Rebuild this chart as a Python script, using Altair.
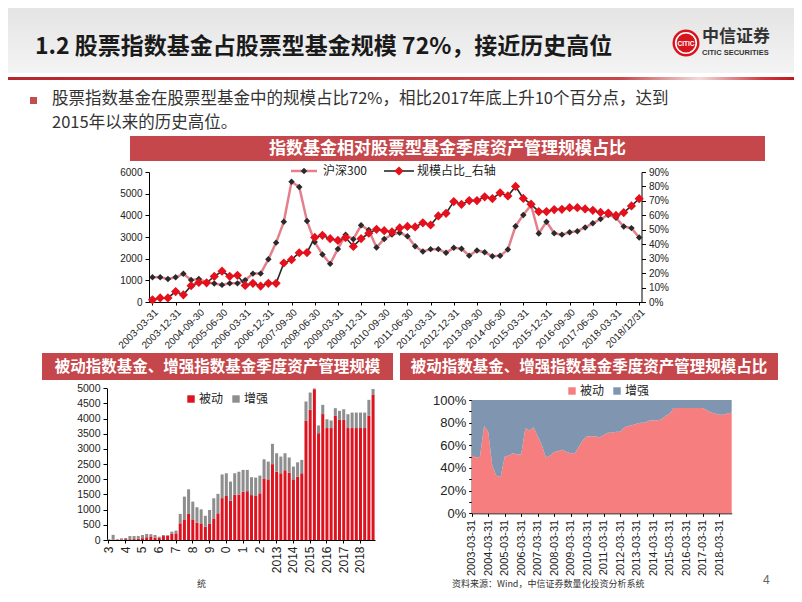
import json
import altair as alt
import pandas as pd

# ---------------- data ----------------
quarter_dates = [f"{y}-{md}" for y in range(2003, 2019)
                 for md in ("03-31", "06-30", "09-30", "12-31")]
quarter_dates[-1] = "2018/12/31"

hs300 = [1140, 1140, 1060, 1140, 1300, 1020, 1060, 910,
         850, 790, 860, 860, 1010, 1310, 1310, 1970,
         2740, 3700, 5550, 5310, 3740, 2770, 2190, 1760,
         2450, 3100, 2900, 3540, 3320, 2520, 2910, 3110,
         3200, 3030, 2570, 2330, 2440, 2440, 2270, 2500,
         2460, 2140, 2380, 2300, 2110, 2130, 2420, 3500,
         4020, 4480, 3160, 3700, 3170, 3110, 3220, 3270,
         3440, 3630, 3830, 4020, 3890, 3480, 3410, 2980]

ratio_pct = [1.5, 2.8, 2.8, 7.2, 5.0, 11.3, 13.5, 13.3,
             17.7, 21.3, 17.8, 18.5, 11.5, 12.9, 11.0, 12.9,
             12.9, 27.0, 29.3, 34.1, 34.2, 44.7, 46.2, 43.8,
             42.6, 44.6, 38.5, 43.8, 47.6, 50.3, 49.4, 48.5,
             51.3, 52.3, 52.0, 54.8, 53.3, 59.6, 61.4, 69.5,
             67.6, 70.2, 70.2, 72.8, 71.6, 75.6, 73.4, 80.0,
             71.7, 67.7, 62.6, 62.6, 64.0, 64.2, 65.3, 65.3,
             64.4, 63.5, 62.0, 61.6, 59.9, 61.9, 66.5, 71.5]

bar_passive = [5, 10, 15, 20, 30, 25, 30, 40,
               60, 90, 100, 80, 70, 130, 140, 200,
               220, 550, 680, 860, 680, 570, 550, 440,
               530, 710, 880, 1380, 1450, 1300, 1490, 1500,
               1590, 1610, 1480, 1450, 1540, 2030, 2000, 2500,
               2250, 2200, 2300, 2220, 2000, 2090, 2200, 3940,
               4290, 4970, 3520, 4150, 3690, 3690, 4090, 3960,
               3960, 3690, 3690, 3690, 3690, 3690, 4090, 4780]
bar_enhanced = [25, 160, 10, 35, 35, 105, 100, 90,
                105, 110, 90, 85, 40, 35, 25, 75,
                90, 310, 750, 810, 585, 510, 460, 360,
                460, 665, 640, 780, 750, 625, 710, 750,
                720, 700, 590, 607, 583, 630, 585, 670,
                610, 550, 560, 500, 420, 470, 440, 625,
                570, 25, 255, 305, 290, 250, 255, 297,
                350, 457, 510, 510, 510, 510, 530, 195]

share_passive = [52, 49, 50, 77, 72, 42, 33, 32,
                 50, 51, 53, 52, 52, 75, 73, 76,
                 68, 60, 49, 51, 54, 55, 56, 54,
                 53, 53, 59, 65, 68, 68, 68, 67,
                 69, 71, 71, 72, 72, 76, 77, 78,
                 79, 80, 80, 82, 82, 82, 83, 86,
                 88, 93, 93, 93, 93, 93, 93, 93,
                 93, 91, 89, 88, 87, 87, 88, 89]

series_names = ["被动", "增强"]
bar_year_labels = ["3", "4", "5", "6", "7", "8", "9", "0", "1", "2",
                   "2013", "2014", "2015", "2016", "2017", "2018"]
area_year_labels = [f"{y}-03-31" for y in range(2003, 2019)]
top_left_ticks = [0, 1000, 2000, 3000, 4000, 5000, 6000]
top_right_ticks = [0, 10, 20, 30, 40, 50, 60, 70, 80, 90]
bar_ticks = [0, 500, 1000, 1500, 2000, 2500, 3000, 3500, 4000, 4500, 5000]

# ---------------- style ----------------
FONT_CN = "Noto Sans CJK SC"
FONT_NUM = "Liberation Sans"
BANNER = "#C5474B"
PINK = "#E3808B"
RED_PT = "#E5101C"
DARK = "#2A2A2A"
BAR_RED = "#DD1420"
BAR_GRAY = "#8E8E8E"
AREA_RED = "#F77E7E"
AREA_BLUE = "#8096B0"
W, H = 786, 585

top_df = pd.DataFrame({"idx": list(range(64)), "date": quarter_dates,
                       "hs300": hs300, "ratio": ratio_pct})

bar_rows = []
for i in range(64):
    bar_rows.append({"q": i, "series": series_names[0], "value": bar_passive[i], "ord": 0})
    bar_rows.append({"q": i, "series": series_names[1], "value": bar_enhanced[i], "ord": 1})
bar_df = pd.DataFrame(bar_rows)

area_rows = []
for i in range(64):
    area_rows.append({"q": i, "series": series_names[0], "share": share_passive[i], "ord": 0})
    area_rows.append({"q": i, "series": series_names[1], "share": 100 - share_passive[i], "ord": 1})
area_df = pd.DataFrame(area_rows)

ONE = alt.Data(values=[{"k": 0}])


def txt(s, x, y, size, color="#222222", font=FONT_CN, weight="normal",
        align="left", baseline="middle"):
    return alt.Chart(ONE).mark_text(
        text=s, fontSize=size, font=font, fontWeight=weight, color=color,
        align=align, baseline=baseline
    ).encode(x=alt.value(x), y=alt.value(y))


def box(x1, x2, y1, y2, fill):
    return alt.Chart(ONE).mark_rect(color=fill).encode(
        x=alt.value(x1), x2=alt.value(x2), y=alt.value(y1), y2=alt.value(y2))


axis_common = dict(grid=False, title=None, domainColor="black", tickColor="black",
                   labelColor="#222222", labelFont=FONT_NUM)

# ---------------- top chart ----------------
x_top_scale = alt.Scale(domain=[-0.45, 63.3], range=[141, 633.5], nice=False, zero=False)
x_top_axis = alt.Axis(orient="bottom", offset=294 - H, values=list(range(0, 64, 3)),
                      labelExpr=json.dumps(quarter_dates) + "[datum.value]",
                      labelAngle=-45, labelFontSize=10, labelFlush=False,
                      labelOverlap=False, tickSize=3, labelPadding=2, **axis_common)
y_left_scale = alt.Scale(domain=[0, 6000], range=[294, 164], nice=False)
y_right_scale = alt.Scale(domain=[0, 90], range=[294, 164], nice=False)

hs_line = alt.Chart(top_df).mark_line(color=PINK, strokeWidth=2.5).encode(
    x=alt.X("idx:Q", scale=x_top_scale, axis=x_top_axis),
    y=alt.Y("hs300:Q", scale=y_left_scale,
            axis=alt.Axis(orient="left", offset=-141, values=top_left_ticks, format="d",
                          labelFontSize=10, tickSize=4, labelPadding=3, **axis_common)))
hs_pts = alt.Chart(top_df).mark_point(shape="diamond", filled=True, color=DARK,
                                      size=42, opacity=1).encode(
    x=alt.X("idx:Q", scale=x_top_scale, axis=None),
    y=alt.Y("hs300:Q", scale=y_left_scale, axis=None))
ratio_line = alt.Chart(top_df).mark_line(color=DARK, strokeWidth=1.6).encode(
    x=alt.X("idx:Q", scale=x_top_scale, axis=None),
    y=alt.Y("ratio:Q", scale=y_right_scale,
            axis=alt.Axis(orient="right", offset=633.5 - W, values=top_right_ticks,
                          labelExpr="datum.value + '%'", labelFontSize=10,
                          tickSize=4, labelPadding=3, **axis_common)))
ratio_pts = alt.Chart(top_df).mark_point(shape="diamond", filled=True, color=RED_PT,
                                         size=85, opacity=1).encode(
    x=alt.X("idx:Q", scale=x_top_scale, axis=None),
    y=alt.Y("ratio:Q", scale=y_right_scale, axis=None))

# ---------------- bottom-left stacked bars ----------------
bars = alt.Chart(bar_df).mark_bar().encode(
    x=alt.X("q:O", scale=alt.Scale(range=[99, 367], paddingInner=0.28, paddingOuter=0.1),
            axis=alt.Axis(orient="bottom", offset=532 - H, values=list(range(0, 64, 4)),
                          labelExpr=json.dumps(bar_year_labels) + "[datum.value / 4]",
                          labelAngle=-90, labelFontSize=12, tickSize=3, labelPadding=3,
                          labelOverlap=False, **axis_common)),
    y=alt.Y("value:Q", stack="zero",
            scale=alt.Scale(domain=[0, 5000], range=[532, 380.3], nice=False),
            axis=alt.Axis(orient="left", offset=-99, values=bar_ticks, format="d",
                          labelFontSize=10.5, tickSize=4, labelPadding=3, **axis_common)),
    color=alt.Color("series:N",
                    scale=alt.Scale(domain=series_names, range=[BAR_RED, BAR_GRAY]),
                    legend=alt.Legend(orient="none", legendX=177, legendY=385,
                                      direction="horizontal", title=None,
                                      symbolType="square", symbolSize=55,
                                      labelFont=FONT_CN, labelFontSize=12,
                                      labelColor="#222222", columnPadding=6,
                                      labelOffset=2, symbolStrokeWidth=0)),
    order=alt.Order("ord:Q", sort="ascending"))

# ---------------- bottom-right 100% area ----------------
area = alt.Chart(area_df).mark_area(opacity=1).encode(
    x=alt.X("q:Q", scale=alt.Scale(domain=[0, 63], range=[463.7, 723.7], nice=False, zero=False),
            axis=alt.Axis(orient="bottom", offset=505.3 - H, values=list(range(0, 64, 4)),
                          labelExpr=json.dumps(area_year_labels) + "[datum.value / 4]",
                          labelAngle=-90, labelFontSize=11, tickSize=3, labelPadding=3,
                          labelFlush=False, labelOverlap=False, **axis_common)),
    y=alt.Y("share:Q", stack="normalize",
            scale=alt.Scale(domain=[0, 1], range=[505.3, 392], nice=False),
            axis=alt.Axis(orient="left", offset=-463.7, format=".0%",
                          values=[i / 10 for i in range(11)], labelFontSize=13,
                          tickSize=3, labelPadding=3, **axis_common)),
    color=alt.Color("series:N",
                    scale=alt.Scale(domain=series_names, range=[AREA_RED, AREA_BLUE]),
                    legend=alt.Legend(orient="none", legendX=558, legendY=377,
                                      direction="horizontal", title=None,
                                      symbolType="square", symbolSize=55,
                                      labelFont=FONT_CN, labelFontSize=12,
                                      labelColor="#222222", columnPadding=6,
                                      labelOffset=2, symbolStrokeWidth=0)),
    order=alt.Order("ord:Q", sort="ascending"))

# ---------------- slide decorations ----------------
header_bg = alt.Chart(ONE).mark_rect(
    fill=alt.LinearGradient(gradient="linear", x1=0, x2=0, y1=0, y2=1,
                            stops=[alt.GradientStop(offset=0, color="#E4E4E4"),
                                   alt.GradientStop(offset=1, color="#F4F4F4")])
).encode(x=alt.value(0), x2=alt.value(W), y=alt.value(0), y2=alt.value(65))
red_line = alt.Chart(ONE).mark_rect(
    fill=alt.LinearGradient(gradient="linear", x1=0, x2=1, y1=0, y2=0,
                            stops=[alt.GradientStop(offset=0, color="#B8262C"),
                                   alt.GradientStop(offset=0.78, color="#C8474B"),
                                   alt.GradientStop(offset=0.88, color="#F3DADB"),
                                   alt.GradientStop(offset=0.96, color="#D03A3E"),
                                   alt.GradientStop(offset=1, color="#C0161D")])
).encode(x=alt.value(0), x2=alt.value(W), y=alt.value(69), y2=alt.value(72))

logo = [
    alt.Chart(ONE).mark_point(shape="circle", filled=True, color="#D7141E", size=729,
                              opacity=1).encode(x=alt.value(678), y=alt.value(35)),
    alt.Chart(ONE).mark_point(shape="circle", filled=False, color="white", size=420,
                              strokeWidth=1.6, opacity=1).encode(x=alt.value(678), y=alt.value(35)),
    txt("CITIC", 678, 35.5, 6.5, color="white", font=FONT_NUM, weight="bold", align="center"),
    txt("中信证券", 694, 29, 17, color="#333333", weight="bold"),
    txt("CITIC SECURITIES", 694, 45, 7.5, color="#333333", font=FONT_NUM, weight="bold"),
]

decor = [
    header_bg, red_line,
    txt("1.2  股票指数基金占股票型基金规模 72%，接近历史高位", 27, 39, 23,
        color="#1A1A1A", weight="bold"),
    box(22, 29, 89, 96, "#C0504D"),
    txt("股票指数基金在股票型基金中的规模占比72%，相比2017年底上升10个百分点，达到",
        44, 91, 16.5, color="#333333"),
    txt("2015年以来的历史高位。", 44, 115, 16.5, color="#333333"),
    box(122, 757, 128, 153, BANNER),
    txt("指数基金相对股票型基金季度资产管理规模占比", 439.5, 140.5, 17,
        color="white", weight="bold", align="center"),
    box(34, 385, 345, 372, BANNER),
    txt("被动指数基金、增强指数基金季度资产管理规模", 209.5, 358.5, 15.5,
        color="white", weight="bold", align="center"),
    box(392, 770, 345, 372, BANNER),
    txt("被动指数基金、增强指数基金季度资产管理规模占比", 581, 358.5, 15.5,
        color="white", weight="bold", align="center"),
    # top chart legend
    alt.Chart(ONE).mark_rule(color=PINK, strokeWidth=2.5).encode(
        x=alt.value(283), x2=alt.value(309), y=alt.value(163)),
    alt.Chart(ONE).mark_point(shape="diamond", filled=True, color=DARK, size=42,
                              opacity=1).encode(x=alt.value(296), y=alt.value(163)),
    txt("沪深300", 315, 163, 12, color="#222222"),
    alt.Chart(ONE).mark_rule(color=DARK, strokeWidth=1.6).encode(
        x=alt.value(376), x2=alt.value(406), y=alt.value(163)),
    alt.Chart(ONE).mark_point(shape="diamond", filled=True, color=RED_PT, size=85,
                              opacity=1).encode(x=alt.value(391), y=alt.value(163)),
    txt("规模占比_右轴", 409, 163, 12, color="#222222"),
    # footer
    txt("统", 189, 576, 9, color="#333333"),
    txt("资料来源：Wind，中信证券数量化投资分析系统", 444, 576, 9, color="#333333"),
    txt("4", 755, 572, 12, color="#666666", font=FONT_NUM),
] + logo

chart = alt.layer(
    *decor, hs_line, hs_pts, ratio_line, ratio_pts, bars, area
).resolve_scale(
    x="independent", y="independent", color="independent"
).properties(
    width=W, height=H, padding=0,
    autosize=alt.AutoSizeParams(type="none")
).configure_view(stroke=None)

chart.save("out.html", embed_options={"renderer": "svg", "actions": False})
